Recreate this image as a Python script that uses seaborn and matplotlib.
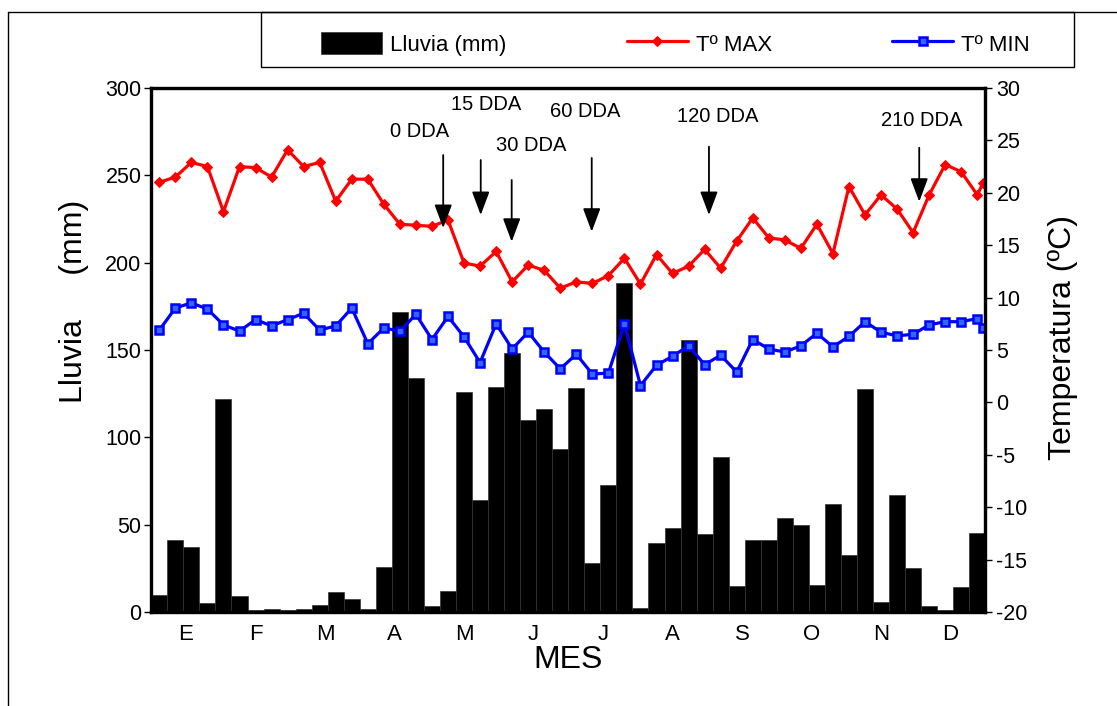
import numpy as np
import matplotlib
matplotlib.use('Agg')
import matplotlib.pyplot as plt
import seaborn as sns
from matplotlib.patches import Rectangle
from matplotlib.lines import Line2D

# lluvia semanal (mm), 52 semanas
lluvia = [9.5, 41, 37.5, 5, 122, 9, 1, 1.5, 1, 1.5, 4, 11.5, 7.5,
          2, 25.5, 172, 134, 3.5, 12, 126, 64, 129, 148.5, 110, 116, 93.5,
          128.5, 28, 72.5, 188.5, 2.5, 39.5, 48, 155.5, 44.5, 89, 15, 41, 41,
          54, 50, 15.5, 62, 32.5, 127.5, 5.5, 67, 25, 3.5, 1.2, 14.5, 45]

# temperaturas semanales (53 puntos, el ultimo al cierre del anio)
t_max = [21.0, 21.5, 22.9, 22.5, 18.2, 22.5, 22.4, 21.5, 24.1, 22.5, 22.9, 19.2, 21.3,
         21.3, 18.9, 17.0, 16.9, 16.8, 17.4, 13.3, 13.0, 14.4, 11.5, 13.1, 12.6, 10.9,
         11.5, 11.35, 12.1, 13.75, 11.3, 14.1, 12.3, 13.0, 14.6, 12.8, 15.4, 17.6, 15.7,
         15.5, 14.7, 17.0, 14.2, 20.6, 17.9, 19.8, 18.45, 16.2, 19.8, 22.7, 22.0, 19.8, 20.9]
t_min = [6.9, 9.0, 9.5, 8.9, 7.4, 6.8, 7.9, 7.3, 7.9, 8.5, 6.9, 7.3, 9.0,
         5.6, 7.1, 6.8, 8.4, 6.0, 8.2, 6.25, 3.8, 7.5, 5.1, 6.7, 4.8, 3.2,
         4.6, 2.7, 2.8, 7.5, 1.6, 3.55, 4.4, 5.4, 3.6, 4.5, 2.9, 6.0, 5.1,
         4.8, 5.4, 6.6, 5.3, 6.3, 7.7, 6.7, 6.35, 6.5, 7.4, 7.7, 7.7, 8.0, 7.1]

semana_lluvia = np.arange(52) + 0.5
semana_temp = np.append(np.arange(52) + 0.5, 51.85)

meses = ['E', 'F', 'M', 'A', 'M', 'J', 'J', 'A', 'S', 'O', 'N', 'D']

# anotaciones de dias despues de aplicacion
dda_texto = ['0 DDA', '15 DDA', '30 DDA', '60 DDA', '120 DDA', '210 DDA']
dda_semana = [18.2, 20.54, 22.47, 27.46, 34.77, 47.88]
dda_punta = [16.64, 17.88, 15.33, 16.29, 17.88, 19.15]
dda_cola = [23.6, 23.13, 21.22, 23.32, 24.4, 24.3]
dda_txt_x = [16.75, 20.87, 23.67, 27.04, 35.33, 48.05]
dda_txt_y = [25.83, 28.38, 24.56, 27.74, 27.26, 26.88]

sns.set_theme(style='white')
plt.rcParams['font.family'] = ['Liberation Sans', 'DejaVu Sans']
plt.rcParams['axes.unicode_minus'] = False
plt.rcParams['text.color'] = 'black'
plt.rcParams['axes.labelcolor'] = 'black'
plt.rcParams['xtick.color'] = 'black'
plt.rcParams['ytick.color'] = 'black'

fig = plt.figure(figsize=(11.17, 7.06), dpi=100)
ax = fig.add_axes([151.3 / 1117, 94 / 706, 834 / 1117, 524 / 706])

sns.barplot(x=semana_lluvia, y=lluvia, native_scale=True, width=1, color='black',
            saturation=1, edgecolor='#333333', linewidth=0.5, errorbar=None, ax=ax)
ax.set_xlim(0, 52)
ax.set_ylim(0, 300)
ax.set_yticks(np.arange(0, 301, 50))

bordes = np.arange(13) * 52 / 12
centros = (np.arange(12) + 0.5) * 52 / 12
ax.set_xticks(bordes, labels=[''] * 13)
ax.set_xticks(centros, labels=meses, minor=True)
ax.tick_params(axis='x', which='major', direction='inout', length=16, width=1, color='#333333')
ax.tick_params(axis='x', which='minor', length=0, pad=9, labelsize=16)
ax.tick_params(axis='y', direction='out', length=5, width=1, pad=2, labelsize=15.5, left=True)
ax.set_xlabel('MES', fontsize=23, labelpad=0)
ax.set_ylabel('')

ax2 = ax.twinx()
sns.lineplot(x=semana_temp, y=t_max, color='red', marker='D', markersize=5.5,
             markeredgecolor='red', linewidth=2.3, ax=ax2, sort=False)
sns.lineplot(x=semana_temp, y=t_min, color='#0000ff', marker='s', markersize=6,
             markerfacecolor='#3366ff', markeredgecolor='#0000ff', markeredgewidth=1.8,
             linewidth=2.3, ax=ax2, sort=False)
ax2.set_ylim(-20, 30)
ax2.set_yticks(np.arange(-20, 31, 5))
ax2.set_xlim(0, 52)
ax2.tick_params(axis='y', direction='out', length=5, width=1, pad=3, labelsize=15.5, right=True)
ax2.set_ylabel('')

for a in (ax, ax2):
    for s in a.spines.values():
        s.set_linewidth(2.3)
        s.set_color('black')

ax.text(-0.0927, 0.592, 'Lluvia     (mm)', transform=ax.transAxes, rotation=90,
        ha='center', va='center', fontsize=23)
ax.text(1.093, 0.523, 'Temperatura (ºC)', transform=ax.transAxes, rotation=90,
        ha='center', va='center', fontsize=23)

for txt, x, yp, yc, tx, ty in zip(dda_texto, dda_semana, dda_punta, dda_cola, dda_txt_x, dda_txt_y):
    ax2.annotate('', xy=(x, yp), xytext=(x, yc),
                 arrowprops=dict(arrowstyle='-|>,head_length=0.8,head_width=0.3', color='black',
                                 lw=1.3, mutation_scale=18, shrinkA=0, shrinkB=0))
    ax2.text(tx, ty, txt, ha='center', va='center', fontsize=14.5)

# marco exterior y caja de leyenda
fig.add_artist(Line2D([8 / 1117, 1], [1 - 12 / 706, 1 - 12 / 706], transform=fig.transFigure,
                      color='black', lw=1))
fig.add_artist(Line2D([8 / 1117, 8 / 1117], [0, 1 - 12 / 706], transform=fig.transFigure,
                      color='black', lw=1))
fig.add_artist(Rectangle((261 / 1117, 1 - 67 / 706), 813 / 1117, 55 / 706, transform=fig.transFigure,
                         fill=False, edgecolor='black', lw=1))

lineas = ax2.get_lines()
fig.legend(handles=[ax.containers[0], lineas[0], lineas[1]],
           labels=['Lluvia (mm)', 'Tº MAX', 'Tº MIN'],
           loc='center', bbox_to_anchor=(675.5 / 1117, 1 - 44 / 706), ncol=3, frameon=False,
           fontsize=16, handlelength=2.75, handleheight=1.1, handletextpad=0.36,
           columnspacing=5.4)

fig.savefig('out.png', dpi=100)
